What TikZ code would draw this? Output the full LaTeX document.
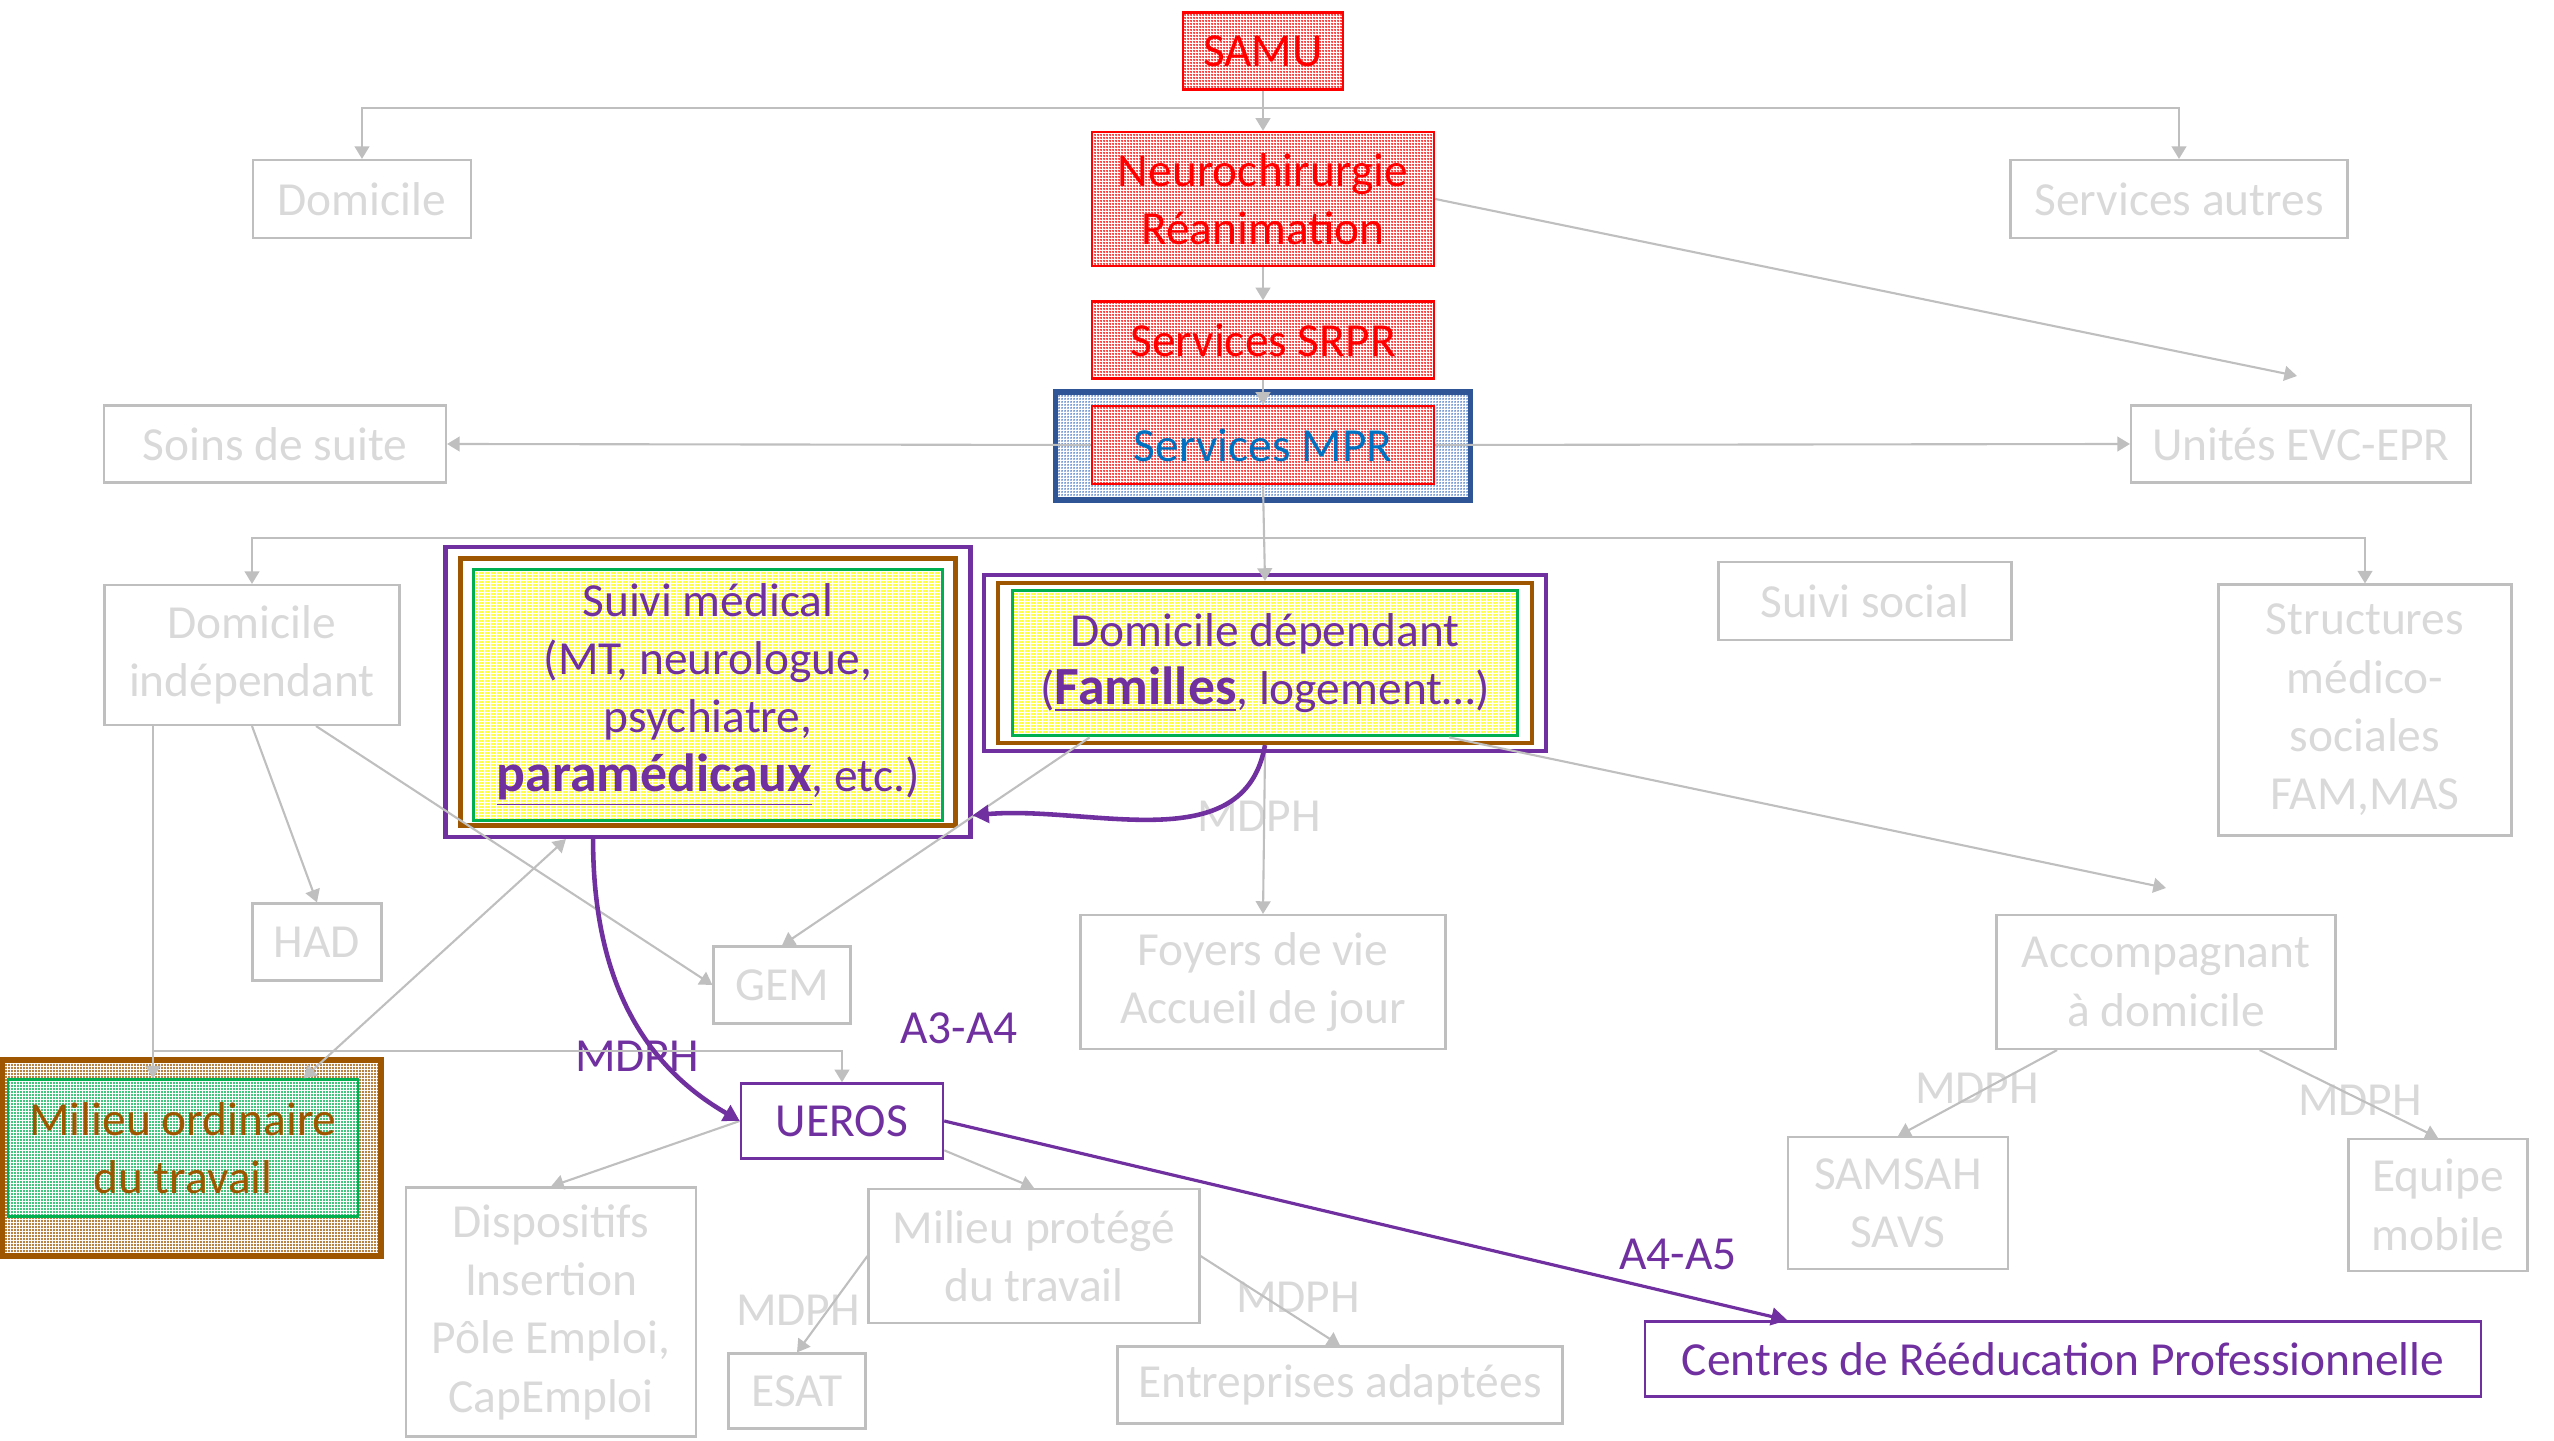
\documentclass[tikz,border=0pt]{standalone}
\usepackage{fontspec}
\setmainfont{Carlito}
\usetikzlibrary{arrows.meta,patterns.meta}

\definecolor{lgrey}{RGB}{191,191,191}
\definecolor{ltext}{RGB}{217,217,217}
\definecolor{sred}{RGB}{255,0,0}
\definecolor{spurple}{RGB}{112,48,160}
\definecolor{sbrown}{RGB}{158,87,0}
\definecolor{sgreen}{RGB}{0,176,80}
\definecolor{syellow}{RGB}{255,255,0}
\definecolor{sblue}{RGB}{47,85,151}
\definecolor{sbluedot}{RGB}{68,114,196}
\definecolor{mprblue}{RGB}{0,112,192}

\newcommand{\bigbold}[1]{\underline{\fontsize{15.3}{16.6}\selectfont\textbf{#1}}}

\tikzset{
	basebox/.style={inner sep=0pt, align=center, font=\fontsize{13.5}{16.6}\selectfont},
	greybox/.style={basebox, draw=lgrey, line width=0.6pt, text=ltext},
	redbox/.style={basebox, draw=sred, line width=0.7pt, text=sred, preaction={fill=white}, pattern={Dots[distance=0.8536pt, radius=0.3pt]}, pattern color=sred},
	bluebox/.style={basebox, draw=sblue, line width=1.6pt, preaction={fill=white}, pattern={Dots[distance=0.8536pt, radius=0.28pt]}, pattern color=sbluedot},
	ringbox/.style={basebox, draw=#1, line width=1.2pt, fill=white},
	yellowbox/.style={basebox, draw=sgreen, line width=1.1pt, text=spurple, preaction={fill=white}, pattern={Dots[distance=0.8536pt, radius=0.3pt]}, pattern color=syellow},
	brownbox/.style={basebox, draw=sbrown, line width=1.6pt, preaction={fill=white}, pattern={Dots[distance=0.8536pt, radius=0.3pt]}, pattern color=sbrown},
	greenbox/.style={basebox, draw=sgreen, line width=0.6pt, text=sbrown, preaction={fill=white}, pattern={Dots[distance=0.8536pt, radius=0.3pt]}, pattern color=sgreen},
	purplebox/.style={basebox, draw=spurple, line width=0.7pt, text=spurple},
	greylabel/.style={basebox, text=ltext},
	purplelabel/.style={basebox, text=spurple},
	gline/.style={draw=lgrey, line width=0.6pt},
	pline/.style={draw=spurple, line width=1.3pt, >={Triangle[length=4.6pt,width=5pt]}},
}

\begin{document}
\begin{tikzpicture}[>={Triangle[length=3.6pt,width=4.2pt]}]
	\useasboundingbox (0,0) rectangle (25.54,14.40);

	\node (SAMU)[redbox, minimum width=1.60cm, minimum height=0.77cm] at (12.63,13.89) {SAMU};
	\node (Neuro)[redbox, minimum width=3.42cm, minimum height=1.34cm] at (12.63,12.41) {Neurochirurgie\\Réanimation};
	\node (SRPR)[redbox, minimum width=3.42cm, minimum height=0.77cm] at (12.63,11.00) {Services SRPR};
	\node (MPRo)[bluebox, minimum width=4.15cm, minimum height=1.08cm] at (12.63,9.94) {};
	\node (MPR)[redbox, text=mprblue, minimum width=3.42cm, minimum height=0.78cm] at (12.63,9.95) {Services MPR};

	\node (Dom)[greybox, minimum width=2.18cm, minimum height=0.78cm] at (3.62,12.41) {Domicile};
	\node (Autres)[greybox, minimum width=3.37cm, minimum height=0.78cm] at (21.79,12.41) {Services autres};
	\node (Soins)[greybox, minimum width=3.42cm, minimum height=0.77cm] at (2.75,9.96) {Soins de suite};
	\node (EVC)[greybox, minimum width=3.40cm, minimum height=0.77cm] at (23.01,9.96) {Unités EVC-EPR};

	\node (DomI)[greybox, minimum width=2.95cm, minimum height=1.40cm] at (2.52,7.85) {Domicile\\indépendant};

	\node (SMo)[ringbox=spurple, minimum width=5.25cm, minimum height=2.90cm] at (7.08,7.48) {};
	\node (SMb)[ringbox=sbrown, minimum width=4.95cm, minimum height=2.67cm] at (7.08,7.48) {};
	\node (SM)[yellowbox, minimum width=4.69cm, minimum height=2.51cm] at (7.08,7.45) {Suivi médical\\(MT, neurologue,\\psychiatre,\\\bigbold{paramédicaux}, etc.)};

	\node (DDo)[ringbox=spurple, minimum width=5.62cm, minimum height=1.76cm] at (12.65,7.77) {};
	\node (DDb)[ringbox=sbrown, minimum width=5.34cm, minimum height=1.60cm] at (12.65,7.77) {};
	\node (DDg)[yellowbox, minimum width=5.05cm, minimum height=1.45cm] at (12.65,7.77) {Domicile dépendant\\(\bigbold{Familles}, logement…)};

	\node (Social)[greybox, minimum width=2.93cm, minimum height=0.78cm] at (18.65,8.39) {Suivi social};
	\node (Struct)[greybox, minimum width=2.93cm, minimum height=2.51cm] at (23.65,7.30) {Structures\\médico-\\sociales\\FAM,MAS};

	\node (HAD)[greybox, minimum width=1.29cm, minimum height=0.77cm] at (3.17,4.98) {HAD};
	\node (GEM)[greybox, minimum width=1.37cm, minimum height=0.77cm] at (7.82,4.55) {GEM};
	\node (Foy)[greybox, minimum width=3.65cm, minimum height=1.34cm] at (12.63,4.58) {Foyers de vie\\Accueil de jour};
	\node (Acc)[greybox, minimum width=3.39cm, minimum height=1.34cm] at (21.66,4.58) {Accompagnant\\à domicile};

	\node (MOo)[brownbox, minimum width=3.79cm, minimum height=1.96cm] at (1.915,2.82) {};
	\node (MO)[greenbox, minimum width=3.50cm, minimum height=1.37cm] at (1.83,2.92) {Milieu ordinaire\\du travail};

	\node (UEROS)[purplebox, minimum width=2.02cm, minimum height=0.75cm] at (8.42,3.19) {UEROS};
	\node (Disp)[greybox, minimum width=2.90cm, minimum height=2.49cm] at (5.51,1.28) {Dispositifs\\Insertion\\Pôle Emploi,\\CapEmploi};
	\node (MP)[greybox, minimum width=3.31cm, minimum height=1.34cm] at (10.34,1.84) {Milieu protégé\\du travail};
	\node (ESAT)[greybox, minimum width=1.37cm, minimum height=0.75cm] at (7.97,0.49) {ESAT};
	\node (EA)[greybox, minimum width=4.45cm, minimum height=0.77cm] at (13.40,0.55) {Entreprises adaptées};
	\node (CRP)[purplebox, minimum width=8.36cm, minimum height=0.75cm] at (20.63,0.81) {Centres de Rééducation Professionnelle};
	\node (SAMSAH)[greybox, minimum width=2.20cm, minimum height=1.32cm] at (18.98,2.37) {SAMSAH\\SAVS};
	\node (Equipe)[greybox, minimum width=1.79cm, minimum height=1.32cm] at (24.38,2.35) {Equipe\\mobile};

	\node (L1)[greylabel] at (12.59,6.24) {MDPH};
	\node (L2)[purplelabel] at (9.59,4.12) {A3-A4};
	\node (L3)[purplelabel] at (6.37,3.84) {MDPH};
	\node (L4)[greylabel] at (19.77,3.52) {MDPH};
	\node (L5)[greylabel] at (23.60,3.40) {MDPH};
	\node (L6)[greylabel] at (7.98,1.30) {MDPH};
	\node (L7)[greylabel] at (12.98,1.43) {MDPH};
	\node (L8)[purplelabel] at (16.78,1.86) {A4-A5};

	\coordinate (J1) at (12.63,13.32);
	\coordinate (J2) at (12.63,9.02);
	\coordinate (D1) at (1.53,7.15);
	\coordinate (D2) at (1.53,3.89);
	\coordinate (EVCin) at (22.97,10.64);
	\coordinate (AccIn) at (21.66,5.52);

	\draw [->, gline] (SAMU.south) to (Neuro.north);
	\draw [->, gline] (J1) -| (Dom.north);
	\draw [->, gline] (J1) -| (Autres.north);
	\draw [->, gline] (Neuro.south) to (SRPR.north);
	\draw [->, gline] (SRPR.south) to (MPR.north);
	\draw [->, gline] (Neuro.east) to (EVCin);
	\draw [->, gline] (MPR.west) to (Soins.east);
	\draw [->, gline] (MPR.east) to (EVC.west);
	\draw [->, gline] (MPR.south) to (DDb.north);
	\draw [->, gline] (J2) -| (DomI.north);
	\draw [->, gline] (J2) -| (Struct.north);
	\draw [->, gline] (DDo.south) to (Foy.north);

	\draw [->, gline] (D1) to (D1 |- MO.north);
	\draw [->, gline] (D2) -| (UEROS.north);
	\draw [->, gline] (DomI.south) to (HAD.north);
	\draw [->, gline] (DomI.-48) to (GEM.west);
	\draw [<->, gline] (MO.30) to (SMo.-134);
	\draw [->, gline] (DDg.-157) to (GEM.north);
	\draw [->, gline] (DDg.-22) to (AccIn);

	\draw [->, gline] (UEROS.west) to (Disp.north);
	\draw [->, gline] (UEROS.-16) to (MP.north);
	\draw [->, gline] (MP.west) to (ESAT.north);
	\draw [->, gline] (MP.east) to (EA.north);
	\draw [->, gline] (Acc.-148) to (SAMSAH.north);
	\draw [->, gline] (Acc.-36) to (Equipe.north);

	% parcours en violet
	\draw [->, pline] (DDb.south) to[out=-100, in=5] (SMo.-25);
	\draw [->, pline] (SMo.-128) to[out=-90, in=150] (UEROS.west);
	\draw [->, pline, line width=0.9pt] (UEROS.east) to (CRP.172.5);

\end{tikzpicture}
\end{document}
